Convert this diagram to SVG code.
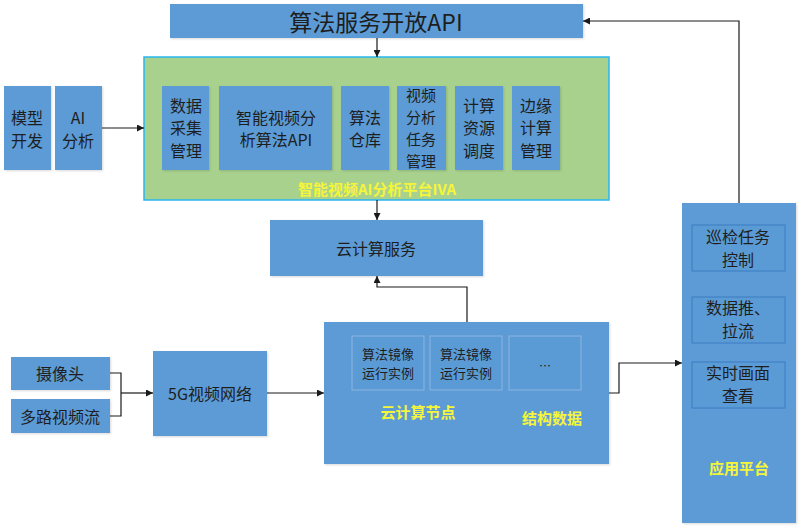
<svg xmlns="http://www.w3.org/2000/svg" width="800" height="530" viewBox="0 0 800 530">
<style>
.b{fill:#5b9bd5;}
.sh{filter:url(#s);}
.t{font-family:"Noto Sans CJK SC","Liberation Sans",sans-serif;fill:#1e1e1e;text-anchor:middle;dominant-baseline:central;}
.y{font-family:"Noto Sans CJK SC","Liberation Sans",sans-serif;fill:#f5f53a;text-anchor:middle;dominant-baseline:central;font-size:15px;font-weight:bold;}
.in{fill:#5b9bd5;stroke:#8db5e0;stroke-width:1;}
.ap{fill:#5b9bd5;stroke:#3a7dc2;stroke-width:1;}
.c{fill:none;stroke:#1a1a1a;stroke-width:1.2;}
</style>
<defs>
<marker id="a" viewBox="0 0 10 10" refX="10" refY="5" markerWidth="7" markerHeight="7" orient="auto" markerUnits="userSpaceOnUse"><path d="M0,0 L10,5 L0,10 z" fill="#1a1a1a"/></marker>
<filter id="s" x="-5%" y="-5%" width="110%" height="115%"><feDropShadow dx="1" dy="1" stdDeviation="1" flood-color="#000" flood-opacity="0.15"/></filter>
</defs>
<rect width="800" height="530" fill="#fff"/>

<g id="api">
<rect class="b sh" x="170" y="4" width="413" height="34"/>
<text class="t" x="376" y="21" font-size="23">算法服务开放API</text>
</g>

<g id="iva">
<rect x="144" y="57" width="465" height="143" fill="#a9d18e" stroke="#29b6f0" stroke-width="1.5"/>
<text class="y" x="377" y="188">智能视频AI分析平台IVA</text>
</g>
<g id="iva-1"><rect class="b sh" x="162" y="86" width="47" height="84"/>
<text class="t" font-size="16"><tspan x="186" y="105">数据</tspan><tspan x="186" y="127">采集</tspan><tspan x="186" y="150">管理</tspan></text></g>
<g id="iva-2"><rect class="b sh" x="219" y="86" width="113" height="84"/>
<text class="t" font-size="16"><tspan x="276" y="117">智能视频分</tspan><tspan x="276" y="139">析算法API</tspan></text></g>
<g id="iva-3"><rect class="b sh" x="341" y="86" width="48" height="84"/>
<text class="t" font-size="16"><tspan x="365" y="117">算法</tspan><tspan x="365" y="139">仓库</tspan></text></g>
<g id="iva-4"><rect class="b sh" x="397" y="86" width="49" height="84"/>
<text class="t" font-size="15"><tspan x="421" y="94">视频</tspan><tspan x="421" y="116">分析</tspan><tspan x="421" y="138">任务</tspan><tspan x="421" y="160">管理</tspan></text></g>
<g id="iva-5"><rect class="b sh" x="455" y="86" width="48" height="84"/>
<text class="t" font-size="16"><tspan x="479" y="105">计算</tspan><tspan x="479" y="127">资源</tspan><tspan x="479" y="150">调度</tspan></text></g>
<g id="iva-6"><rect class="b sh" x="512" y="86" width="48" height="84"/>
<text class="t" font-size="16"><tspan x="536" y="105">边缘</tspan><tspan x="536" y="127">计算</tspan><tspan x="536" y="150">管理</tspan></text></g>

<g id="model"><rect class="b sh" x="4" y="86" width="47" height="84"/>
<text class="t" font-size="16"><tspan x="27" y="117">模型</tspan><tspan x="27" y="140">开发</tspan></text></g>
<g id="ai"><rect class="b sh" x="55" y="86" width="47" height="84"/>
<text class="t" font-size="16"><tspan x="78" y="117">AI</tspan><tspan x="78" y="140">分析</tspan></text></g>

<g id="cloudsvc"><rect class="b sh" x="270" y="220" width="213" height="56"/>
<text class="t" x="376" y="248" font-size="16">云计算服务</text></g>

<g id="cam"><rect class="b sh" x="11" y="357" width="99" height="33"/>
<text class="t" x="60" y="373" font-size="16">摄像头</text></g>
<g id="stream"><rect class="b sh" x="11" y="399" width="99" height="34"/>
<text class="t" x="60" y="416" font-size="16">多路视频流</text></g>
<g id="net5g"><rect class="b sh" x="153" y="351" width="114" height="85"/>
<text class="t" x="210" y="393" font-size="16">5G视频网络</text></g>

<g id="node">
<rect class="b sh" x="324" y="322" width="285" height="142"/>
<rect class="in" x="352" y="336" width="72" height="54"/>
<text class="t" font-size="13"><tspan x="388" y="353">算法镜像</tspan><tspan x="388" y="372">运行实例</tspan></text>
<rect class="in" x="430" y="336" width="72" height="54"/>
<text class="t" font-size="13"><tspan x="466" y="353">算法镜像</tspan><tspan x="466" y="372">运行实例</tspan></text>
<rect class="in" x="509" y="336" width="72" height="54"/>
<text class="t" x="545" y="365" font-size="12">…</text>
<text class="y" x="418" y="411">云计算节点</text>
<text class="y" x="552" y="417">结构数据</text>
</g>

<g id="app">
<rect class="b sh" x="682" y="203" width="114" height="320"/>
<rect class="ap" x="692" y="225" width="93" height="46"/>
<text class="t" font-size="16"><tspan x="738" y="236">巡检任务</tspan><tspan x="738" y="259">控制</tspan></text>
<rect class="ap" x="692" y="297" width="93" height="46"/>
<text class="t" font-size="16"><tspan x="738" y="307">数据推、</tspan><tspan x="738" y="330">拉流</tspan></text>
<rect class="ap" x="692" y="362" width="93" height="46"/>
<text class="t" font-size="16"><tspan x="738" y="372">实时画面</tspan><tspan x="738" y="395">查看</tspan></text>
<text class="y" x="739" y="467">应用平台</text>
</g>

<g id="connectors">
<path class="c" d="M377,38 V57" marker-end="url(#a)"/>
<path class="c" d="M102,128 H144" marker-end="url(#a)"/>
<path class="c" d="M377,200 V220" marker-end="url(#a)"/>
<path class="c" d="M467,322 V287 H377 V276" marker-end="url(#a)"/>
<path class="c" d="M110,373 H121 V416 H110"/>
<path class="c" d="M121,393 H153" marker-end="url(#a)"/>
<path class="c" d="M267,393 H324" marker-end="url(#a)"/>
<path class="c" d="M609,393 H619 V363 H682" marker-end="url(#a)"/>
<path class="c" d="M739,203 V21 H583" marker-end="url(#a)"/>
</g>
</svg>
